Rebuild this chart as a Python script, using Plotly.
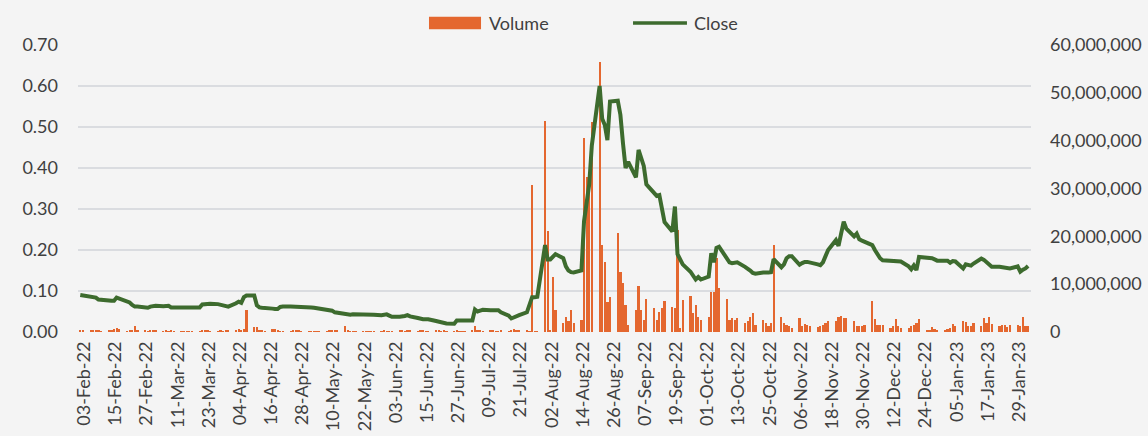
import pandas as pd
import plotly.graph_objects as go

# Trading days (Mon-Fri) from 03-Feb-22 to 03-Feb-23
dates = pd.bdate_range("2022-02-03", "2023-02-03")

# Close price (left axis), one row per week
close = [
    0.090, 0.089,
    0.086, 0.085, 0.084, 0.079, 0.079,
    0.077, 0.076, 0.076, 0.084, 0.082,
    0.076, 0.072, 0.066, 0.062, 0.062,
    0.060, 0.059, 0.062, 0.064, 0.064,
    0.063, 0.063, 0.064, 0.060, 0.060,
    0.060, 0.060, 0.060, 0.060, 0.060,
    0.060, 0.067, 0.068, 0.068, 0.069,
    0.068, 0.067, 0.066, 0.063, 0.062,
    0.070, 0.074, 0.071, 0.085, 0.089,
    0.089, 0.065, 0.060, 0.059, 0.059,
    0.057, 0.056, 0.056, 0.061, 0.062,
    0.062, 0.062, 0.061, 0.062, 0.061,
    0.060, 0.060, 0.059, 0.058, 0.057,
    0.055, 0.054, 0.052, 0.048, 0.047,
    0.042, 0.041, 0.042, 0.043, 0.043,
    0.043, 0.044, 0.044, 0.044, 0.042,
    0.041, 0.042, 0.043, 0.040, 0.037,
    0.037, 0.037, 0.039, 0.041, 0.038,
    0.034, 0.032, 0.031, 0.031, 0.031,
    0.027, 0.025, 0.023, 0.023, 0.021,
    0.020, 0.028, 0.028, 0.028, 0.028,
    0.028, 0.055, 0.050, 0.052, 0.054,
    0.053, 0.053, 0.053, 0.053, 0.048,
    0.040, 0.033, 0.036, 0.039, 0.041,
    0.048, 0.070, 0.085, 0.085, 0.086,
    0.212, 0.177, 0.177, 0.185, 0.190,
    0.180, 0.160, 0.150, 0.146, 0.145,
    0.150, 0.270, 0.310, 0.360, 0.455,
    0.600, 0.520, 0.505, 0.468, 0.562,
    0.564, 0.530, 0.460, 0.400, 0.415,
    0.377, 0.444, 0.420, 0.405, 0.360,
    0.340, 0.332, 0.334, 0.300, 0.268,
    0.245, 0.306, 0.190, 0.175, 0.165,
    0.147, 0.135, 0.128, 0.134, 0.128,
    0.135, 0.192, 0.170, 0.205, 0.208,
    0.176, 0.170, 0.168, 0.168, 0.170,
    0.159, 0.155, 0.150, 0.144, 0.142,
    0.145, 0.144, 0.145, 0.146, 0.178,
    0.158, 0.165, 0.180, 0.185, 0.185,
    0.164, 0.168, 0.171, 0.171, 0.170,
    0.165, 0.163, 0.170, 0.185, 0.200,
    0.224, 0.210, 0.240, 0.269, 0.252,
    0.233, 0.240, 0.226, 0.223, 0.220,
    0.212, 0.200, 0.190, 0.180, 0.175,
    0.174, 0.174, 0.174, 0.172, 0.172,
    0.160, 0.153, 0.162, 0.151, 0.183,
    0.182, 0.181, 0.180, 0.177, 0.174,
    0.174, 0.174, 0.169, 0.173, 0.172,
    0.155, 0.165, 0.163, 0.162, 0.167,
    0.179, 0.176, 0.170, 0.162, 0.159,
    0.159, 0.158, 0.158, 0.157, 0.155,
    0.160, 0.147, 0.152, 0.155, 0.161,
]

# Volume in millions of shares (right axis), one row per week
volume_m = [
    0.3, 0.4,
    0.4, 0.3, 0.3, 0.4, 0.2,
    0.5, 0.5, 0.6, 0.8, 0.6,
    0.2, 0.3, 0.5, 1.2, 0.5,
    0.3, 0.2, 0.4, 0.3, 0.3,
    0.2, 0.3, 0.2, 0.3, 0.2,
    0.2, 0.1, 0.2, 0.2, 0.1,
    0.2, 0.4, 0.3, 0.3, 0.2,
    0.2, 0.3, 0.2, 0.3, 0.4,
    0.3, 0.6, 0.5, 0.6, 4.5,
    1.1, 1.0, 0.4, 0.3, 0.2,
    0.7, 0.6, 0.3, 0.2, 0.2,
    0.2, 0.5, 0.5, 0.3, 0.2,
    0.2, 0.1, 0.2, 0.2, 0.1,
    0.2, 0.3, 0.5, 0.4, 0.3,
    1.2, 0.3, 0.2, 0.2, 0.1,
    0.1, 0.2, 0.2, 0.1, 0.2,
    0.2, 0.3, 0.2, 0.1, 0.2,
    0.3, 0.5, 0.2, 0.3, 0.4,
    0.2, 0.5, 0.3, 0.2, 0.2,
    0.4, 0.3, 0.2, 0.3, 0.2,
    0.2, 0.3, 0.2, 0.2, 0.2,
    0.3, 1.3, 0.5, 0.3, 0.2,
    0.5, 0.3, 0.2, 0.2, 0.3,
    0.2, 0.4, 0.6, 0.5, 0.3,
    0.3, 0.2, 30.7, 0.2, 0.2,
    44.1, 21.1, 0.5, 11.6, 4.7,
    1.9, 3.2, 2.3, 4.7, 1.9,
    2.5, 40.5, 32.5, 32.0, 44.0,
    56.5, 18.2, 14.7, 6.3, 7.4,
    20.8, 12.6, 10.2, 5.6, 1.5,
    4.7, 9.6, 4.7, 2.5, 7.0,
    5.0, 2.5, 4.2, 5.0, 6.5,
    5.3, 5.0, 21.3, 0.8, 6.7,
    7.5, 3.9, 5.6, 3.2, 2.6,
    3.2, 8.4, 8.4, 15.4, 9.1,
    6.8, 2.5, 2.9, 2.5, 2.9,
    1.8, 2.2, 3.2, 3.9, 1.5,
    2.5, 1.8, 1.2, 1.8, 18.2,
    3.2, 1.8, 1.5, 1.2, 0.9,
    2.9, 1.2, 1.7, 1.5, 1.2,
    1.0, 1.2, 1.5, 1.9, 2.2,
    2.2, 3.2, 3.3, 2.9, 2.9,
    2.2, 1.3, 1.2, 1.3, 1.5,
    6.5, 2.7, 1.5, 1.5, 1.5,
    0.9, 1.3, 2.7, 1.2, 0.9,
    0.8, 1.3, 1.5, 1.9, 2.7,
    0.3, 0.5, 1.1, 0.6, 0.4,
    0.4, 0.6, 0.8, 1.6, 1.3,
    2.2, 2.1, 1.2, 1.3, 1.9,
    1.3, 2.9, 1.9, 3.1, 1.6,
    1.3, 1.5, 1.5, 1.1, 1.5,
    1.5, 1.3, 3.2, 1.3, 1.3,
]
volume = [v * 1e6 for v in volume_m]

ORANGE = "#E4672F"
GREEN = "#3D6B2E"
BG = "#F4F4F4"
GRID = "#DADCE0"
TXT = "#404040"
FONT = "Lato"
DAY_MS = 86400000

fig = go.Figure()
fig.add_trace(go.Bar(
    x=dates, y=volume, name="Volume",
    marker=dict(color=ORANGE, line=dict(width=0)),
    width=0.85 * DAY_MS, yaxis="y", showlegend=False,
))
fig.add_trace(go.Scatter(
    x=dates, y=close, name="Close", mode="lines",
    line=dict(color=GREEN, width=4), yaxis="y2", showlegend=False,
))

tickfont = dict(family=FONT, size=18, color=TXT)
fig.update_layout(
    width=1148, height=436,
    margin=dict(l=78, r=117, t=45, b=104),
    paper_bgcolor=BG, plot_bgcolor=BG,
    bargap=0,
    font=dict(family=FONT, size=18, color=TXT),
    xaxis=dict(
        type="date",
        range=["2022-02-02 03:00", "2023-02-04 03:00"],
        tick0="2022-02-03", dtick=12 * DAY_MS,
        tickformat="%d-%b-%y", tickangle=-90,
        showgrid=False, zeroline=False, showline=False, ticks="",
        tickfont=tickfont, ticklabelstandoff=5, ticklabelshift=4,
        automargin=False,
    ),
    yaxis=dict(
        side="right", range=[0, 60e6], dtick=10e6, tickformat=",.0f",
        showgrid=False, zeroline=False, showline=False, ticks="",
        tickfont=tickfont, ticklabelstandoff=18, automargin=False,
    ),
    yaxis2=dict(
        side="left", overlaying="y", range=[0, 0.7], dtick=0.1,
        tickformat=".2f", showgrid=True, gridcolor=GRID, gridwidth=1.5,
        zeroline=False, showline=False, ticks="",
        tickfont=tickfont, ticklabelstandoff=19, automargin=False,
    ),
    shapes=[
        dict(type="rect", xref="paper", yref="paper",
             x0=0.3683, x1=0.4229, y0=1.0547, y1=1.0986,
             fillcolor=ORANGE, line=dict(width=0)),
        dict(type="line", xref="paper", yref="paper",
             x0=0.5824, x1=0.6390, y0=1.0767, y1=1.0767,
             line=dict(color=GREEN, width=3.5)),
    ],
    annotations=[
        dict(text="Volume", xref="paper", yref="paper", x=0.4292, y=1.0767,
             xanchor="left", yanchor="middle", showarrow=False,
             font=dict(family=FONT, size=18, color=TXT)),
        dict(text="Close", xref="paper", yref="paper", x=0.6443, y=1.0767,
             xanchor="left", yanchor="middle", showarrow=False,
             font=dict(family=FONT, size=18, color=TXT)),
    ],
)

fig.write_html(
    "out.html",
    config={"displayModeBar": False},
    post_script="document.body.style.margin='0';"
                "document.body.style.background='" + BG + "';",
)
